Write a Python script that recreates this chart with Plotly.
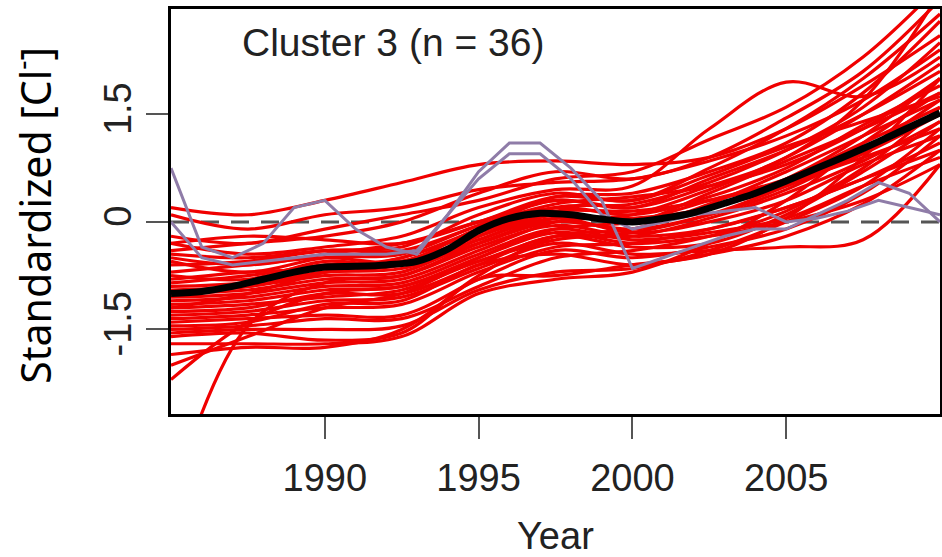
import plotly.graph_objects as go

# ---- data ----
knot_years = [1985, 1987.5, 1990, 1992.5, 1995, 1997.5, 2000, 2002.5, 2005, 2007.5, 2010]

red_series = [
    [0.2, 0.1, 0.3, 0.55, 0.8, 0.85, 0.8, 0.9, 1.3, 1.9, 2.6],
    [0.1, -0.1, 0.1, 0.2, 0.45, 0.55, 0.6, 0.85, 1.2, 1.7, 2.4],
    [-0.2, -0.3, -0.1, 0.1, 0.3, 0.6, 0.7, 1.15, 1.6, 2.3, 3.3],
    [-0.3, -0.45, -0.35, -0.2, 0.2, 0.45, 0.5, 1.3, 1.95, 1.75, 2.3],
    [-0.5, -0.6, -0.45, -0.3, 0.0, 0.3, 0.2, 0.6, 1.0, 1.5, 2.1],
    [-0.55, -0.7, -0.5, -0.45, -0.05, 0.25, 0.35, 0.5, 0.8, 1.3, 2.0],
    [-0.7, -0.6, -0.5, -0.55, -0.1, 0.2, 0.1, 0.35, 0.75, 1.35, 1.9],
    [-0.75, -0.8, -0.55, -0.6, -0.2, 0.1, 0.0, 0.2, 0.5, 0.95, 1.5],
    [-0.8, -0.7, -0.65, -0.5, -0.15, 0.15, 0.15, 0.3, 0.55, 0.9, 1.3],
    [-0.9, -0.85, -0.7, -0.65, -0.3, 0.0, -0.1, 0.1, 0.45, 1.0, 1.7],
    [-0.95, -0.9, -0.75, -0.7, -0.25, 0.05, -0.15, 0.0, 0.3, 0.8, 1.2],
    [-1.0, -0.95, -0.8, -0.75, -0.35, -0.05, -0.2, -0.1, 0.2, 0.6, 1.0],
    [-1.05, -1.0, -0.85, -0.8, -0.4, 0.0, 0.1, 0.45, 0.9, 1.5, 2.2],
    [-1.1, -1.05, -0.9, -0.85, -0.45, -0.1, -0.25, -0.15, 0.05, 0.5, 0.9],
    [-1.15, -1.1, -0.95, -0.9, -0.5, -0.15, -0.3, -0.2, 0.0, 0.3, 0.8],
    [-1.2, -1.0, -0.7, -0.5, -0.1, 0.35, 0.4, 0.7, 1.1, 1.8, 2.8],
    [-1.25, -1.2, -1.0, -1.0, -0.6, -0.2, -0.35, -0.3, 0.1, 0.7, 1.4],
    [-1.3, -1.25, -1.1, -1.05, -0.65, -0.3, -0.45, -0.4, -0.35, -0.25, 0.8],
    [-1.35, -1.3, -1.2, -1.15, -0.7, -0.35, -0.3, -0.1, 0.2, 0.6, 1.1],
    [-1.4, -1.35, -1.3, -1.3, -0.8, -0.4, -0.5, -0.35, -0.1, 0.4, 1.2],
    [-1.5, -1.45, -1.35, -1.35, -0.9, -0.5, -0.4, -0.2, 0.15, 0.75, 1.6],
    [-1.55, -1.5, -1.5, -1.45, -0.95, -0.7, -0.65, -0.4, 0.0, 0.5, 1.3],
    [-1.6, -1.55, -1.65, -1.55, -0.8, -0.75, -0.6, -0.45, 0.05, 0.9, 2.0],
    [-1.7, -1.7, -1.7, -1.6, -1.0, -0.8, -0.7, -0.3, 0.3, 1.1, 1.8],
    [-1.85, -1.75, -1.75, -1.5, -0.75, -0.2, -0.1, 0.25, 0.7, 1.2, 1.7],
    [-2.0, -1.6, -1.2, -1.0, -0.5, -0.1, 0.0, 0.3, 0.6, 1.1, 1.6],
    [-2.2, -1.4, -1.0, -0.9, -0.55, -0.2, -0.2, 0.05, 0.4, 0.85, 1.4],
    [-3.9, -1.45, -0.85, -0.75, -0.3, 0.05, 0.05, 0.2, 0.6, 1.2, 2.0],
    [-0.4, -0.3, -0.2, 0.0, 0.4, 0.7, 0.6, 0.9, 1.45, 2.1, 3.1],
    [-0.6, -0.55, -0.4, -0.35, 0.1, 0.4, 0.3, 0.75, 1.3, 2.0, 2.9],
    [-0.85, -0.75, -0.6, -0.55, -0.2, 0.2, 0.25, 0.55, 1.0, 1.6, 2.5],
    [-0.3, -0.2, -0.25, -0.3, 0.0, 0.35, 0.3, 0.65, 1.05, 1.4, 1.75],
    [-1.0, -0.9, -0.7, -0.6, -0.25, 0.1, 0.0, 0.4, 0.85, 1.3, 1.8],
    [-1.2, -1.15, -1.05, -0.95, -0.55, -0.25, -0.15, 0.1, 0.5, 1.0, 1.5],
    [-0.45, -0.5, -0.4, -0.4, -0.05, 0.3, 0.2, 0.5, 0.9, 1.7, 3.2],
    [-1.45, -1.4, -1.15, -1.1, -0.6, -0.45, -0.6, -0.45, -0.2, 0.25, 1.0],
]

years = list(range(1985, 2011))
purple_a = [0.75, -0.35, -0.5, -0.3, 0.2, 0.3, -0.1, -0.35, -0.45, 0.1, 0.7, 1.1,
            1.1, 0.75, 0.3, -0.65, -0.5, -0.35, -0.2, -0.1, -0.1, 0.1, 0.3, 0.55, 0.4, 0.0]
purple_b = [0.0, -0.5, -0.6, -0.55, -0.5, -0.45, -0.45, -0.45, -0.4, 0.1, 0.6, 0.95,
            0.95, 0.6, 0.1, -0.1, 0.0, 0.1, 0.15, 0.2, 0.0, 0.05, 0.15, 0.3, 0.2, 0.1]
mean_line = [-1.0, -0.97, -0.9, -0.8, -0.7, -0.63, -0.62, -0.6, -0.55, -0.38, -0.12, 0.05,
             0.12, 0.1, 0.04, 0.0, 0.05, 0.13, 0.26, 0.4, 0.57, 0.75, 0.93, 1.12, 1.32, 1.52]

x_ticks = [1990, 1995, 2000, 2005]
y_ticks = [-1.5, 0, 1.5]
y_tick_text = ["-1.5", "0", "1.5"]

fig = go.Figure()

fig.add_trace(go.Scatter(x=[1985, 2010], y=[0, 0], mode="lines",
                         line=dict(color="#555555", width=3, dash="18px,12px"),
                         hoverinfo="skip"))

for s in red_series:
    fig.add_trace(go.Scatter(x=knot_years, y=s, mode="lines",
                             line=dict(color="#f00000", width=3.2, shape="spline", smoothing=1.0)))

for s in (purple_a, purple_b):
    fig.add_trace(go.Scatter(x=years, y=s, mode="lines",
                             line=dict(color="#8f7ca8", width=3)))

fig.add_trace(go.Scatter(x=years, y=mean_line, mode="lines",
                         line=dict(color="black", width=7, shape="spline", smoothing=0.8)))

tick_font = dict(family="Liberation Sans, Arial, sans-serif", size=38, color="#222222")

fig.update_layout(
    width=942, height=557,
    margin=dict(l=171, r=2, t=9, b=143),
    paper_bgcolor="white", plot_bgcolor="white",
    showlegend=False,
    xaxis=dict(range=[1985, 2010], tickvals=x_ticks, ticks="outside", ticklen=22,
               tickwidth=2, tickcolor="#555555", showgrid=False, zeroline=False,
               showline=True, linecolor="black", linewidth=3, mirror=True,
               tickfont=tick_font, automargin=False, ticklabelstandoff=6),
    yaxis=dict(range=[-2.68, 2.97], tickvals=y_ticks, ticktext=y_tick_text,
               ticks="outside", ticklen=22, tickwidth=2, tickcolor="#555555",
               showgrid=False, zeroline=False, showline=True, linecolor="black",
               linewidth=3, mirror=True, tickangle=-90, tickfont=tick_font,
               automargin=False),
    annotations=[
        dict(text="Cluster 3 (n = 36)", xref="paper", yref="paper", x=0.0897, y=0.918,
             xanchor="left", yanchor="middle", showarrow=False,
             font=dict(family="Liberation Sans, Arial, sans-serif", size=39, color="#222222")),
        dict(text="Year", xref="paper", yref="paper", x=0.5, y=-0.3,
             xanchor="center", yanchor="middle", showarrow=False,
             font=dict(family="Liberation Sans, Arial, sans-serif", size=38, color="#222222")),
        dict(text="Standardized [Cl<sup>-</sup>]", xref="paper", yref="paper", x=-0.18, y=0.491,
             xanchor="center", yanchor="middle", textangle=-90, showarrow=False,
             font=dict(family="Noto Sans, sans-serif", size=41, color="black")),
    ],
)

fig.write_html("out.html", config={"displayModeBar": False},
               post_script="document.body.style.margin='0';document.body.style.overflow='hidden';")
